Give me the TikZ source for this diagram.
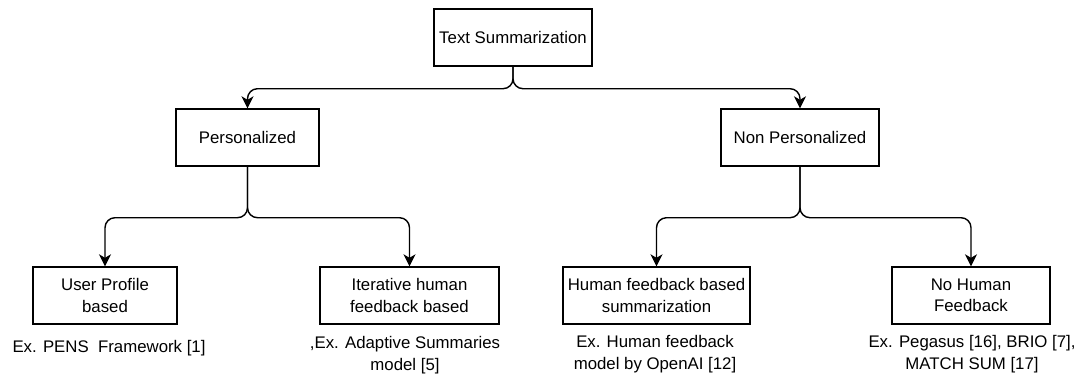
\documentclass[tikz,border=0pt]{standalone}
\usepackage{fontspec}
\setmainfont{Liberation Sans}
\usetikzlibrary{arrows.meta}
\begin{document}
\begin{tikzpicture}[x=1pt,y=-1pt,
  box/.style={draw,line width=1.4pt,minimum height=57pt,inner sep=2pt,align=center,
    font=\fontsize{16.8}{21.5}\selectfont},
  note/.style={align=center,inner sep=0pt,font=\fontsize{16.8}{21.5}\selectfont},
  link/.style={line width=1.4pt,rounded corners=10pt,-{Stealth[length=12pt,width=12pt,inset=3.5pt]}}]
\useasboundingbox (0,0) rectangle (1083,376);
% boxes
\node[box,minimum width=158pt] (root) at (513,37.5) {Text Summarization};
\node[box,minimum width=143pt] (pers) at (247.5,137.5) {Personalized};
\node[box,minimum width=158pt] (nonp) at (800,137.5) {Non Personalized};
\node[box,minimum width=144pt] (user) at (105,295.5) {User Profile\\based};
\node[box,minimum width=179pt] (iter) at (409.5,295.5) {Iterative human\\feedback based};
\node[box,minimum width=187pt] (hfb) at (656.5,295.5) {Human feedback based\\summarization};
\node[box,minimum width=158pt] (nohf) at (971,295.5) {No Human\\Feedback};
% examples
\node[note] (exu) at (109,348) {Ex. PENS\ \ Framework [1]};
\node[note] (exi) at (405,355) {,Ex. Adaptive Summaries\\model [5]};
\node[note] (exh) at (655,354) {Ex. Human feedback\\model by OpenAI [12]};
\node[note] (exn) at (972,354) {Ex. Pegasus [16], BRIO [7],\\MATCH SUM [17]};
% connectors
\draw[link] (root.south) -- ++(0,22) -| (pers.north);
\draw[link] (root.south) -- ++(0,22) -| (nonp.north);
\draw[link] (pers.south) -- ++(0,51) -| (user.north);
\draw[link] (pers.south) -- ++(0,51) -| (iter.north);
\draw[link] (nonp.south) -- ++(0,51) -| (hfb.north);
\draw[link] (nonp.south) -- ++(0,51) -| (nohf.north);
\end{tikzpicture}
\end{document}
